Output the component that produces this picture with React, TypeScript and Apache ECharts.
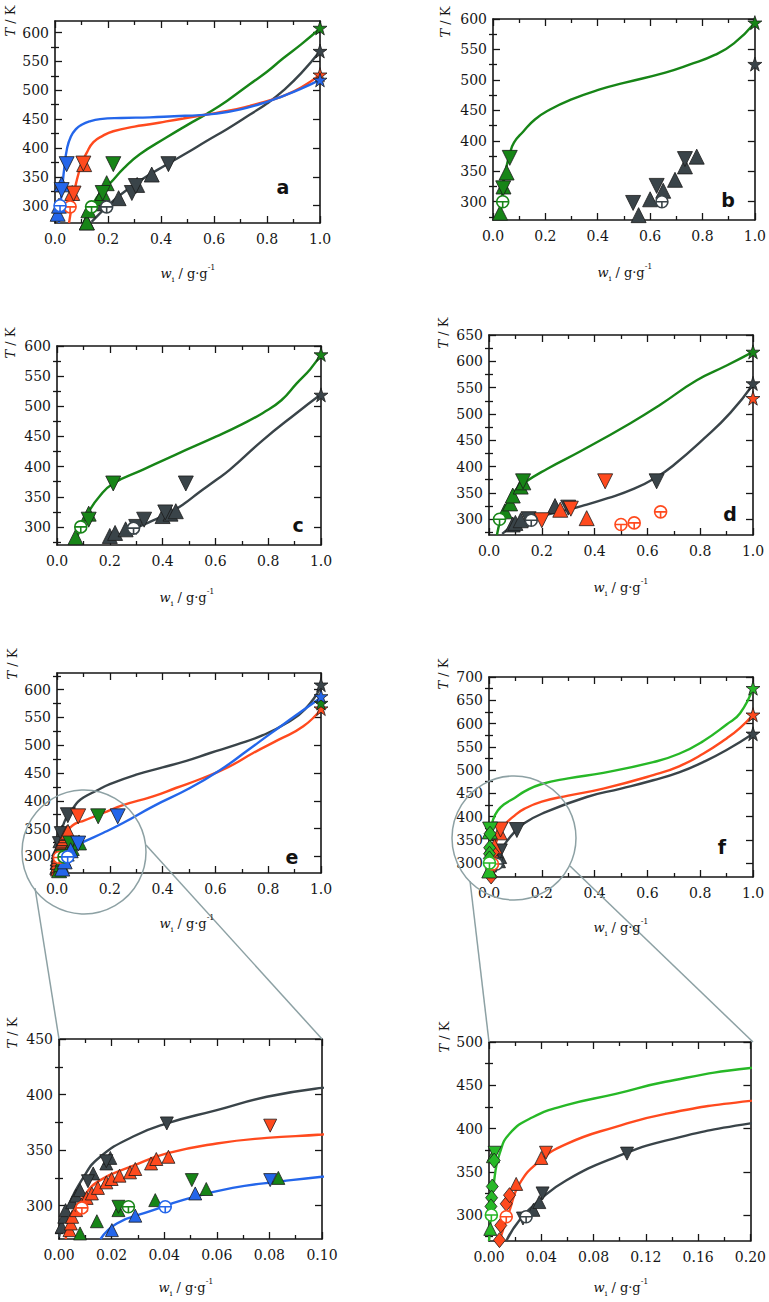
import React, { useEffect, useRef } from "react";
import * as echarts from "echarts";

// ---------------- DATA (w_i in g/g, T in K) ----------------
// panel a
const aGrayCurve = [[0.138,272],[0.2,300],[0.245,318],[0.32,343],[0.42,371],[0.5,392],[0.572,412],[0.65,433],[0.736,458],[0.8,477],[0.86,499],[0.93,530],[1.0,568]];
const aGrayUp = [[0.12,271],[0.185,304],[0.24,313],[0.31,336],[0.365,354]];
const aGrayDown = [[0.29,322],[0.305,334],[0.428,372]];
const aGrayCircle = [[0.195,298]];
const aGrayStar = [[1.0,568]];
const aGreenCurve = [[0.107,270],[0.14,300],[0.17,322],[0.208,339],[0.26,365],[0.32,389],[0.42,418],[0.5,440],[0.572,459],[0.65,482],[0.736,511],[0.8,532],[0.86,555],[0.93,580],[1.0,607]];
const aGreenUp = [[0.12,271],[0.126,292],[0.17,313],[0.18,322],[0.195,339]];
const aGreenDown = [[0.18,322],[0.22,372]];
const aGreenCircle = [[0.138,298]];
const aGreenStar = [[1.0,608]];
const aRedCurve = [[0.053,270],[0.06,290],[0.069,313],[0.08,340],[0.1,372],[0.12,392],[0.145,410],[0.18,421],[0.22,429],[0.3,437],[0.358,441],[0.42,446],[0.484,451],[0.572,458],[0.65,464],[0.736,473],[0.8,481],[0.86,490],[0.93,505],[1.0,527]];
const aRedUp = [[0.065,322],[0.11,372]];
const aRedDown = [[0.07,321],[0.107,373]];
const aRedCircle = [[0.057,298]];
const aRedStar = [[1.0,527]];
const aBlueCurve = [[0.015,270],[0.02,300],[0.027,330],[0.035,365],[0.045,398],[0.06,420],[0.08,433],[0.1,440],[0.13,446],[0.17,450],[0.25,452],[0.358,453],[0.45,455],[0.547,457],[0.6,459],[0.7,467],[0.8,480],[0.86,490],[0.925,502],[1.0,518]];
const aBlueUp = [[0.01,286],[0.015,300],[0.025,337]];
const aBlueDown = [[0.025,327],[0.044,372]];
const aBlueCircle = [[0.019,300]];
const aBlueStar = [[1.0,518]];

// panel b
const bGreenCurve = [[0.027,270],[0.033,300],[0.039,326],[0.05,355],[0.064,378],[0.08,397],[0.115,415],[0.16,435],[0.216,451],[0.3,468],[0.405,484],[0.5,495],[0.658,512],[0.75,525],[0.847,541],[0.92,560],[1.0,594]];
const bGreenUp = [[0.027,282],[0.04,325],[0.052,348]];
const bGreenDown = [[0.039,322],[0.064,372]];
const bGreenCircle = [[0.037,300]];
const bGreenStar = [[1.0,594]];
const bGrayUp = [[0.556,278],[0.6,304],[0.65,318],[0.695,336],[0.733,358],[0.778,374]];
const bGrayDown = [[0.535,298],[0.625,326],[0.733,370]];
const bGrayCircle = [[0.645,300]];
const bGrayStar = [[1.0,526]];

// panel c
const cGreenCurve = [[0.07,270],[0.09,300],[0.12,325],[0.16,350],[0.213,372],[0.326,395],[0.45,420],[0.604,450],[0.7,470],[0.78,489],[0.85,510],[0.908,538],[0.96,562],[1.0,586]];
const cGreenUp = [[0.07,283],[0.12,322]];
const cGreenDown = [[0.12,312],[0.213,372]];
const cGreenCircle = [[0.09,300]];
const cGreenStar = [[1.0,586]];
const cGrayCurve = [[0.2,282],[0.28,295],[0.35,308],[0.42,322],[0.48,338],[0.54,358],[0.6,377],[0.655,395],[0.78,444],[0.908,489],[1.0,520]];
const cGrayUp = [[0.2,285],[0.22,290],[0.26,296],[0.4,318],[0.43,322],[0.45,326]];
const cGrayDown = [[0.3,300],[0.33,312],[0.41,324],[0.488,372]];
const cGrayCircle = [[0.29,298]];
const cGrayStar = [[1.0,519]];

// panel d
const dGreenCurve = [[0.03,270],[0.045,300],[0.07,330],[0.1,355],[0.129,368],[0.218,395],[0.35,430],[0.534,482],[0.65,518],[0.787,564],[0.9,592],[1.0,618]];
const dGreenUp = [[0.06,315],[0.08,330],[0.09,345],[0.12,362],[0.13,370]];
const dGreenDown = [[0.129,372]];
const dGreenCircle = [[0.04,300]];
const dGreenStar = [[1.0,618]];
const dGrayCurve = [[0.05,272],[0.1,290],[0.15,300],[0.25,312],[0.35,325],[0.45,340],[0.55,358],[0.635,380],[0.7,403],[0.812,452],[0.914,502],[1.0,556]];
const dGrayUp = [[0.09,290],[0.1,293],[0.12,298],[0.25,325]];
const dGrayDown = [[0.15,300],[0.3,322],[0.635,372]];
const dGrayCircle = [[0.16,298]];
const dGrayStar = [[1.0,558]];
const dRedUp = [[0.27,318],[0.37,302]];
const dRedDown = [[0.2,298],[0.31,320],[0.44,372]];
const dRedCircle = [[0.5,290],[0.55,293],[0.65,314]];
const dRedStar = [[1.0,530]];

// panel e (and its enlargement)
const eGrayCurve = [[0,272],[0.003,296],[0.0094,326],[0.0157,344],[0.028,362],[0.041,374],[0.06,386],[0.079,398],[0.1,406],[0.149,418],[0.2,430],[0.3,447],[0.4,460],[0.49,472],[0.58,486],[0.68,501],[0.78,518],[0.87,540],[0.94,565],[1.0,605]];
const eGrayUp = [[0.001,281],[0.002,290],[0.0025,296],[0.005,303],[0.0065,309],[0.008,314],[0.013,329],[0.018,338],[0.0195,343]];
const eGrayDown = [[0.011,322],[0.018,340],[0.041,374]];
const eGrayStar = [[1.0,609]];
const eRedCurve = [[0.0025,270],[0.005,290],[0.0093,308],[0.0157,323],[0.0283,336],[0.041,347],[0.06,356],[0.079,361],[0.1,364],[0.174,378],[0.25,392],[0.364,408],[0.45,423],[0.553,441],[0.65,461],[0.743,486],[0.84,510],[0.933,534],[1.0,565]];
const eRedUp = [[0.004,278],[0.0045,284],[0.005,290],[0.0065,296],[0.0085,301],[0.0105,307],[0.0125,311],[0.0148,316],[0.018,321],[0.02,324],[0.023,327],[0.027,330],[0.029,333],[0.035,338],[0.037,342],[0.0416,344]];
const eRedDown = [[0.0803,372]];
const eRedCircle = [[0.0087,298]];
const eRedStar = [[1.0,566]];
const eBlueCurve = [[0.0158,270],[0.022,284],[0.0347,295],[0.047,305],[0.066,316],[0.085,322],[0.1,326],[0.174,342],[0.25,360],[0.364,390],[0.5,422],[0.617,455],[0.72,490],[0.806,520],[0.9,552],[1.0,586]];
const eBlueUp = [[0.0201,278],[0.029,291],[0.0518,311]];
const eBlueDown = [[0.0803,323],[0.23,372]];
const eBlueCircle = [[0.0404,299]];
const eBlueStar = [[1.0,588]];
const eGreenUp = [[0.008,275],[0.0144,286],[0.0226,296],[0.0366,305],[0.056,315],[0.0834,325]];
const eGreenDown = [[0.0226,299],[0.0505,323],[0.156,372]];
const eGreenCircle = [[0.0264,299]];
const eGreenStar = [[1.0,576]];

// panel f (and its enlargement)
const fGreenCurve = [[0,270],[0.0018,305],[0.0043,344],[0.0081,371],[0.0157,394],[0.0334,413],[0.059,427],[0.097,440],[0.135,454],[0.2,470],[0.3,482],[0.433,494],[0.622,517],[0.72,535],[0.811,562],[0.9,598],[0.951,622],[1.0,676]];
const fGreenUp = [[0.003,368],[0.001,284]];
const fGreenDown = [[0.0043,372]];
const fGreenDiamond = [[0.004,363],[0.0025,333],[0.002,320],[0.0015,310]];
const fGreenCircle = [[0.0018,300]];
const fGreenStar = [[1.0,676]];
const fRedCurve = [[0.008,270],[0.0157,305],[0.0233,336],[0.0385,362],[0.059,382],[0.097,402],[0.135,417],[0.2,432],[0.3,445],[0.433,460],[0.622,489],[0.72,508],[0.811,535],[0.9,568],[0.95,590],[1.0,619]];
const fRedUp = [[0.04,366],[0.0208,336]];
const fRedDown = [[0.0436,372]];
const fRedDiamond = [[0.008,271],[0.009,288],[0.0132,313],[0.0157,323]];
const fRedCircle = [[0.0132,298]];
const fRedStar = [[1.0,619]];
const fGrayCurve = [[0.0132,270],[0.0233,294],[0.0385,317],[0.059,340],[0.097,367],[0.135,386],[0.2,406],[0.37,442],[0.5,460],[0.622,478],[0.72,495],[0.811,517],[0.9,543],[1.0,578]];
const fGrayUp = [[0.034,306],[0.0385,315]];
const fGrayDown = [[0.026,296],[0.041,325],[0.1056,371]];
const fGrayCircle = [[0.0284,298]];
const fGrayStar = [[1.0,578]];

// ---------------- STYLE ----------------
const GRAY = "#3a4449";
const GREEN = "#178517";
const GREEN_F = "#27b827";
const RED = "#ff4a1e";
const BLUE = "#2466ea";
const SERIF = "DejaVu Serif";
const SANS = "DejaVu Sans";
const INK = "#161616";
const MAG = "#8da1a4";

const STAR = "path://M0,-1L0.2245,-0.309L0.951,-0.309L0.363,0.118L0.588,0.809L0,0.382L-0.588,0.809L-0.363,0.118L-0.951,-0.309L-0.2245,-0.309Z";
const CPLUS = "path://M-1,0A1,1,0,1,1,1,0A1,1,0,1,1,-1,0ZM-1,0L1,0M0,0L0,1";

type Item = { data: number[][]; kind: string; color: string };

const it = (data: number[][], kind: string, color: string): Item => ({ data, kind, color });

const panels = [
  {
    rect: { left: 55, top: 21, width: 265, height: 202 }, xMax: 1, xInt: 0.2, xDec: 1, yMax: 620,
    letter: "a", lp: [283, 187], tk: [10, 21], tt: [188, 273], big: true,
    items: [
      it(aGrayCurve, "curve", GRAY), it(aGreenCurve, "curve", GREEN), it(aRedCurve, "curve", RED), it(aBlueCurve, "curve", BLUE),
      it(aGrayUp, "up", GRAY), it(aGrayDown, "down", GRAY), it(aGrayCircle, "circle", GRAY), it(aGrayStar, "star", GRAY),
      it(aGreenUp, "up", GREEN), it(aGreenDown, "down", GREEN), it(aGreenCircle, "circle", GREEN), it(aGreenStar, "star", GREEN),
      it(aRedUp, "up", RED), it(aRedDown, "down", RED), it(aRedCircle, "circle", RED), it(aRedStar, "star", RED),
      it(aBlueUp, "up", BLUE), it(aBlueDown, "down", BLUE), it(aBlueCircle, "circle", BLUE), it(aBlueStar, "star", BLUE),
    ],
  },
  {
    rect: { left: 493, top: 19, width: 264, height: 201 }, xMax: 1, xInt: 0.2, xDec: 1, yMax: 600,
    letter: "b", lp: [728, 200], tk: [445, 22], tt: [625, 272], big: true,
    items: [
      it(bGreenCurve, "curve", GREEN),
      it(bGreenUp, "up", GREEN), it(bGreenDown, "down", GREEN), it(bGreenCircle, "circle", GREEN), it(bGreenStar, "star", GREEN),
      it(bGrayUp, "up", GRAY), it(bGrayDown, "down", GRAY), it(bGrayCircle, "circle", GRAY), it(bGrayStar, "star", GRAY),
    ],
  },
  {
    rect: { left: 57, top: 346, width: 264, height: 199 }, xMax: 1, xInt: 0.2, xDec: 1, yMax: 600,
    letter: "c", lp: [298, 525], tk: [10, 343], tt: [187, 597], big: true,
    items: [
      it(cGreenCurve, "curve", GREEN), it(cGrayCurve, "curve", GRAY),
      it(cGreenUp, "up", GREEN), it(cGreenDown, "down", GREEN), it(cGreenCircle, "circle", GREEN), it(cGreenStar, "star", GREEN),
      it(cGrayUp, "up", GRAY), it(cGrayDown, "down", GRAY), it(cGrayCircle, "circle", GRAY), it(cGrayStar, "star", GRAY),
    ],
  },
  {
    rect: { left: 489, top: 335, width: 264, height: 200 }, xMax: 1, xInt: 0.2, xDec: 1, yMax: 650,
    letter: "d", lp: [730, 514], tk: [443, 333], tt: [621, 587], big: true,
    items: [
      it(dGreenCurve, "curve", GREEN), it(dGrayCurve, "curve", GRAY),
      it(dGreenUp, "up", GREEN), it(dGreenDown, "down", GREEN), it(dGreenCircle, "circle", GREEN), it(dGreenStar, "star", GREEN),
      it(dGrayUp, "up", GRAY), it(dGrayDown, "down", GRAY), it(dGrayCircle, "circle", GRAY), it(dGrayStar, "star", GRAY),
      it(dRedUp, "up", RED), it(dRedDown, "down", RED), it(dRedCircle, "circle", RED), it(dRedStar, "star", RED),
    ],
  },
  {
    rect: { left: 57, top: 673, width: 264, height: 200 }, xMax: 1, xInt: 0.2, xDec: 1, yMax: 630,
    letter: "e", lp: [292, 857], tk: [12, 664], tt: [187, 923], big: true,
    items: [
      it(eGrayCurve, "curve", GRAY), it(eRedCurve, "curve", RED), it(eBlueCurve, "curve", BLUE),
      it(eGrayUp, "up", GRAY), it(eGrayDown, "down", GRAY), it(eGrayStar, "star", GRAY),
      it(eRedUp, "up", RED), it(eRedDown, "down", RED), it(eRedCircle, "circle", RED), it(eRedStar, "star", RED),
      it(eGreenUp, "up", GREEN), it(eGreenDown, "down", GREEN), it(eGreenCircle, "circle", GREEN), it(eGreenStar, "star", GREEN),
      it(eBlueUp, "up", BLUE), it(eBlueDown, "down", BLUE), it(eBlueCircle, "circle", BLUE), it(eBlueStar, "star", BLUE),
    ],
  },
  {
    rect: { left: 489, top: 677, width: 264, height: 200 }, xMax: 1, xInt: 0.2, xDec: 1, yMax: 700,
    letter: "f", lp: [722, 847], tk: [443, 674], tt: [621, 927], big: true,
    items: [
      it(fGreenCurve, "curve", GREEN_F), it(fRedCurve, "curve", RED), it(fGrayCurve, "curve", GRAY),
      it(fGrayUp, "up", GRAY), it(fGrayDown, "down", GRAY), it(fGrayCircle, "circle", GRAY), it(fGrayStar, "star", GRAY),
      it(fRedUp, "up", RED), it(fRedDown, "down", RED), it(fRedDiamond, "diamond", RED), it(fRedCircle, "circle", RED), it(fRedStar, "star", RED),
      it(fGreenUp, "up", GREEN_F), it(fGreenDown, "down", GREEN_F), it(fGreenDiamond, "diamond", GREEN_F), it(fGreenCircle, "circle", GREEN_F), it(fGreenStar, "star", GREEN_F),
    ],
  },
  {
    rect: { left: 59, top: 1039, width: 263, height: 200 }, xMax: 0.1, xInt: 0.02, xDec: 2, yMax: 450,
    letter: "", lp: [0, 0], tk: [12, 1033], tt: [186, 1287], big: false,
    items: [
      it(eGrayCurve, "curve", GRAY), it(eRedCurve, "curve", RED), it(eBlueCurve, "curve", BLUE),
      it(eGrayUp, "up", GRAY), it(eGrayDown, "down", GRAY),
      it(eRedUp, "up", RED), it(eRedDown, "down", RED), it(eRedCircle, "circle", RED),
      it(eGreenUp, "up", GREEN), it(eGreenDown, "down", GREEN), it(eGreenCircle, "circle", GREEN),
      it(eBlueUp, "up", BLUE), it(eBlueDown, "down", BLUE), it(eBlueCircle, "circle", BLUE),
    ],
  },
  {
    rect: { left: 489, top: 1042, width: 264, height: 199 }, xMax: 0.2, xInt: 0.04, xDec: 2, yMax: 500,
    letter: "", lp: [0, 0], tk: [444, 1037], tt: [621, 1287], big: false,
    items: [
      it(fGreenCurve, "curve", GREEN_F), it(fRedCurve, "curve", RED), it(fGrayCurve, "curve", GRAY),
      it(fGrayUp, "up", GRAY), it(fGrayDown, "down", GRAY), it(fGrayCircle, "circle", GRAY),
      it(fRedUp, "up", RED), it(fRedDown, "down", RED), it(fRedDiamond, "diamond", RED), it(fRedCircle, "circle", RED),
      it(fGreenUp, "up", GREEN_F), it(fGreenDown, "down", GREEN_F), it(fGreenDiamond, "diamond", GREEN_F), it(fGreenCircle, "circle", GREEN_F),
    ],
  },
];

const Y_MIN = 270;

function range(from: number, to: number, step: number) {
  const out: number[] = [];
  for (let v = from; v <= to + 1e-9; v += step) out.push(v);
  return out;
}

function buildOption() {
  const grid: any[] = [];
  const xAxis: any[] = [];
  const yAxis: any[] = [];
  const series: any[] = [];
  const graphic: any[] = [];
  const lineStyle = { color: INK, width: 1.6 };
  const tickStyle = { color: INK, width: 1.3 };
  const labelStyle = { fontFamily: SERIF, fontSize: 14, color: INK };

  panels.forEach((p, gi) => {
    grid.push({ ...p.rect, containLabel: false });
    const xCommon = {
      type: "value", gridIndex: gi, min: 0, max: p.xMax, interval: p.xInt,
      splitLine: { show: false },
      axisLine: { show: true, onZero: false, lineStyle },
      axisTick: { show: true, inside: true, length: 7, lineStyle: tickStyle },
      minorTick: { show: true, splitNumber: 2, length: 4, lineStyle: tickStyle },
    };
    xAxis.push({ ...xCommon, position: "bottom", axisLabel: { ...labelStyle, margin: 9, formatter: (v: number) => v.toFixed(p.xDec) } });
    xAxis.push({ ...xCommon, position: "top", axisLabel: { show: false } });

    const first50 = Math.ceil(Y_MIN / 50) * 50;
    const major = range(first50, p.yMax, 50);
    const minor = range(Math.ceil((Y_MIN - 25) / 50) * 50 + 25, p.yMax, 50).filter((v) => v > Y_MIN && v < p.yMax);
    const yBase = { type: "value", gridIndex: gi, min: Y_MIN, max: p.yMax, splitLine: { show: false } };
    yAxis.push({ ...yBase, position: "left", axisLine: { show: true, onZero: false, lineStyle },
      axisTick: { show: true, inside: true, length: 7, lineStyle: tickStyle, customValues: major },
      axisLabel: { ...labelStyle, margin: 6, customValues: major } });
    yAxis.push({ ...yBase, position: "left", axisLine: { show: false },
      axisTick: { show: true, inside: true, length: 4, lineStyle: tickStyle, customValues: minor }, axisLabel: { show: false } });
    yAxis.push({ ...yBase, position: "right", axisLine: { show: true, onZero: false, lineStyle },
      axisTick: { show: true, inside: true, length: 7, lineStyle: tickStyle, customValues: major }, axisLabel: { show: false } });
    yAxis.push({ ...yBase, position: "right", axisLine: { show: false },
      axisTick: { show: true, inside: true, length: 4, lineStyle: tickStyle, customValues: minor }, axisLabel: { show: false } });

    const triSize = p.big ? 15 : 13;
    p.items.forEach((item) => {
      const base = { xAxisIndex: gi * 2, yAxisIndex: gi * 4, data: item.data, silent: true, animation: false };
      if (item.kind === "curve") {
        series.push({ ...base, type: "line", smooth: 0.5, symbol: "none", showSymbol: false,
          lineStyle: { color: item.color, width: 2.4 }, z: 2 });
        return;
      }
      const border = { borderColor: "#1c1c1c", borderWidth: 0.8 };
      let s: any = { ...base, type: "scatter", z: 3, itemStyle: { color: item.color, ...border, opacity: 1 } };
      if (item.kind === "up") s = { ...s, symbol: "triangle", symbolSize: triSize };
      else if (item.kind === "down") s = { ...s, symbol: "triangle", symbolSize: triSize, symbolRotate: 180 };
      else if (item.kind === "diamond") s = { ...s, symbol: "diamond", symbolSize: [12, 15] };
      else if (item.kind === "star") s = { ...s, symbol: STAR, symbolSize: 14, z: 4 };
      else if (item.kind === "circle") s = { ...s, symbol: CPLUS, symbolSize: 12, z: 4,
        itemStyle: { color: "#ffffff", borderColor: item.color, borderWidth: 1.6, opacity: 1 } };
      series.push(s);
    });

    // axis titles
    graphic.push({
      type: "text", x: p.tk[0], y: p.tk[1], rotation: Math.PI / 2, z: 20,
      style: {
        text: "{t|T}{n| / K}", align: "center", verticalAlign: "middle", fontFamily: SERIF, fontSize: 13,
        rich: {
          t: { fontFamily: SERIF, fontStyle: "italic", fontSize: 13, fill: INK },
          n: { fontFamily: SERIF, fontSize: 13, fill: INK },
        },
      },
    });
    graphic.push({
      type: "text", x: p.tt[0], y: p.tt[1], z: 20,
      style: {
        text: "{w|w}{i|i}{n| / g·g}{s|-1}", align: "center", verticalAlign: "middle", fontFamily: SERIF, fontSize: 13,
        rich: {
          w: { fontFamily: SERIF, fontStyle: "italic", fontSize: 13, lineHeight: 20, fill: INK },
          i: { fontFamily: SERIF, fontSize: 8, lineHeight: 20, verticalAlign: "bottom", fill: INK },
          n: { fontFamily: SERIF, fontSize: 13, lineHeight: 20, fill: INK },
          s: { fontFamily: SERIF, fontSize: 8, lineHeight: 20, verticalAlign: "top", fill: INK },
        },
      },
    });
    if (p.letter) {
      graphic.push({
        type: "text", x: p.lp[0], y: p.lp[1], z: 20,
        style: { text: p.letter, fontFamily: SANS, fontWeight: "bold", fontSize: 19, fill: "#111", align: "center", verticalAlign: "middle" },
      });
    }
  });

  // magnifier circles and connector lines
  const magStyle = { fill: "none", stroke: MAG, lineWidth: 1.5 };
  graphic.push({ type: "circle", z: 15, shape: { cx: 84, cy: 852, r: 62 }, style: magStyle });
  graphic.push({ type: "line", z: 15, shape: { x1: 35, y1: 888, x2: 59, y2: 1039 }, style: { stroke: MAG, lineWidth: 1.5 } });
  graphic.push({ type: "line", z: 15, shape: { x1: 146, y1: 845, x2: 322, y2: 1039 }, style: { stroke: MAG, lineWidth: 1.5 } });
  graphic.push({ type: "circle", z: 15, shape: { cx: 514, cy: 838, r: 62 }, style: magStyle });
  graphic.push({ type: "line", z: 15, shape: { x1: 470, y1: 881, x2: 489, y2: 1042 }, style: { stroke: MAG, lineWidth: 1.5 } });
  graphic.push({ type: "line", z: 15, shape: { x1: 570, y1: 866, x2: 753, y2: 1042 }, style: { stroke: MAG, lineWidth: 1.5 } });

  return { animation: false, backgroundColor: "#ffffff", textStyle: { fontFamily: SERIF }, grid, xAxis, yAxis, series, graphic };
}

export default function App() {
  const ref = useRef<HTMLDivElement>(null);
  useEffect(() => {
    document.body.style.margin = "0";
    if (!ref.current) return;
    const chart = echarts.init(ref.current, undefined, { renderer: "svg" });
    chart.setOption(buildOption() as any);
    return () => chart.dispose();
  }, []);
  return <div ref={ref} style={{ width: 769, height: 1302 }} />;
}
